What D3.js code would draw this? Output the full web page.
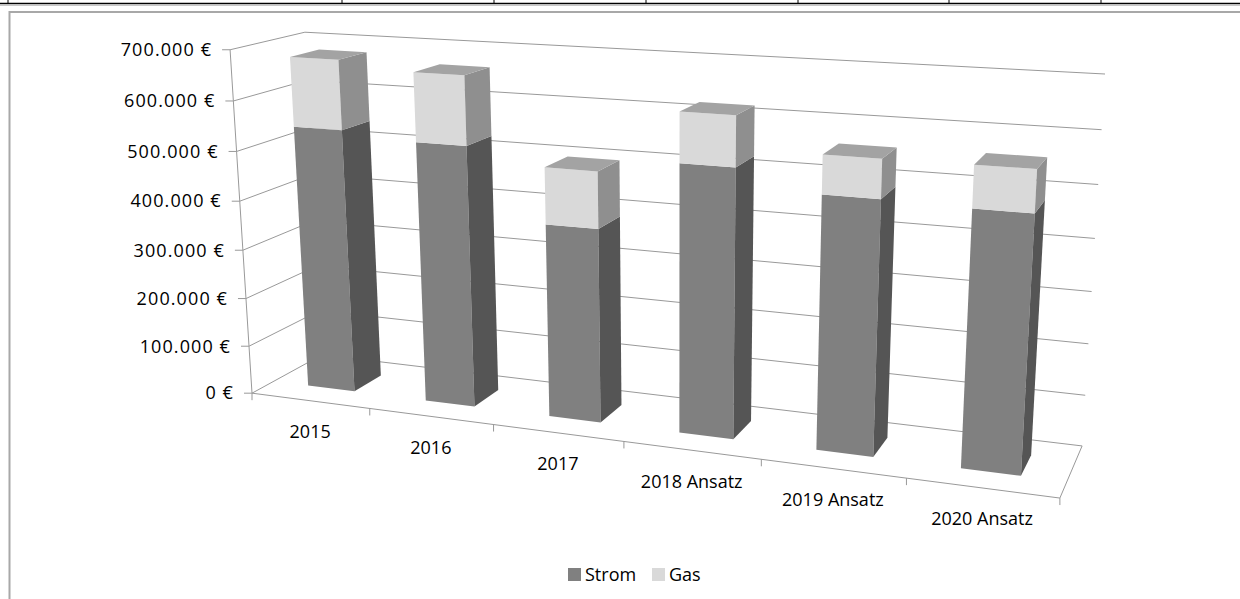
<!DOCTYPE html>
<html lang="de">
<head>
<meta charset="utf-8">
<title>Energiekosten Strom / Gas</title>
<script src="https://d3js.org/d3.v7.min.js"></script>
<style>
body{margin:0;background:#fff;overflow:hidden;}
text{font-family:"Open Sans",sans-serif;font-size:18px;fill:#000;}
.vlabel{letter-spacing:1.1px;}
</style>
</head>
<body>
<script>
// data
var categories = ["2015", "2016", "2017", "2018 Ansatz", "2019 Ansatz", "2020 Ansatz"];
var seriesNames = ["Strom", "Gas"];
var strom = [540000, 527000, 386000, 524000, 486000, 482000];
var gas = [139000, 136000, 111000, 96000, 73000, 78000];
var valueTicks = [0, 100000, 200000, 300000, 400000, 500000, 600000, 700000];

var width = 1240, height = 599;

var svg = d3.select("body").append("svg")
  .attr("width", width).attr("height", height);

// spreadsheet row above the chart object
var cellLines = [8, 342, 494, 646, 798, 949, 1101];
svg.append("line").attr("x1", 0).attr("x2", width).attr("y1", 3.5).attr("y2", 3.5)
  .style("stroke", "#000").style("stroke-width", 1.5);
svg.append("line").attr("x1", 0).attr("x2", width).attr("y1", 5.5).attr("y2", 5.5)
  .style("stroke", "#c8c8c8");
svg.selectAll(".cell").data(cellLines).enter().append("line")
  .attr("x1", function(d){return d;}).attr("x2", function(d){return d;})
  .attr("y1", 0).attr("y2", 4).style("stroke", "#000");

// chart object border
svg.append("rect").attr("x", 9.5).attr("y", 12).attr("width", 1300).attr("height", 700)
  .style("fill", "#fff").style("stroke", "#a8a8a8").style("stroke-width", 2);

// ---- perspective camera fitted to the plot box corners (X category, Y depth, Z value)
var boxCorners = [
  [[0,0,0],[252,393]], [[0,0,1],[230,50]], [[0,1,1],[305,32]], [[0,1,0],[322,355]],
  [[1,1,1],[1105,74]], [[1,1,0],[1082,446]], [[1,0,0],[1060,498]]
];

function solveCamera(pts){
  var A = [], b = [];
  pts.forEach(function(p){
    var X=p[0][0], Y=p[0][1], Z=p[0][2], u=p[1][0], v=p[1][1];
    A.push([X,Y,Z,1,0,0,0,0,-u*X,-u*Y,-u*Z]); b.push(u);
    A.push([0,0,0,0,X,Y,Z,1,-v*X,-v*Y,-v*Z]); b.push(v);
  });
  var n = 11, M = [];
  for (var i=0;i<n;i++){
    M.push([]);
    for (var j=0;j<=n;j++){
      var s = 0;
      for (var k=0;k<A.length;k++) s += A[k][i]*(j<n ? A[k][j] : b[k]);
      M[i].push(s);
    }
  }
  for (var c=0;c<n;c++){
    var piv=c;
    for (var r=c+1;r<n;r++) if (Math.abs(M[r][c])>Math.abs(M[piv][c])) piv=r;
    var tmp=M[c]; M[c]=M[piv]; M[piv]=tmp;
    for (var r2=0;r2<n;r2++){
      if (r2===c) continue;
      var f = M[r2][c]/M[c][c];
      for (var j2=c;j2<=n;j2++) M[r2][j2] -= f*M[c][j2];
    }
  }
  return M.map(function(row,i){return row[n]/row[i];});
}
var cam = solveCamera(boxCorners);
function project(X,Y,Z){
  var w = cam[8]*X + cam[9]*Y + cam[10]*Z + 1;
  return [(cam[0]*X+cam[1]*Y+cam[2]*Z+cam[3])/w, (cam[4]*X+cam[5]*Y+cam[6]*Z+cam[7])/w];
}
function poly(pts){
  return "M" + pts.map(function(p){return project(p[0],p[1],p[2]).join(",");}).join("L") + "Z";
}

// scales
var xBand = d3.scaleBand().domain(categories).range([0,1]).paddingInner(0.6).paddingOuter(0.3);
var zScale = d3.scaleLinear().domain([0,700000]).range([0,1]);
var color = d3.scaleOrdinal().domain(seriesNames).range(["#808080","#d9d9d9"]);
var sideColor = d3.scaleOrdinal().domain(seriesNames).range(["#555555","#8f8f8f"]);
var topColor = d3.scaleOrdinal().domain(seriesNames).range(["#6e6e6e","#a3a3a3"]);
var depth0 = 0.3, depth1 = 0.7;

var de = d3.formatLocale({decimal:",", thousands:".", grouping:[3], currency:[""," €"]});
var fmt = de.format("$,.0f");

var gridColor = "#999999";
var grid = svg.append("g").style("stroke", gridColor).style("stroke-width", 1).style("fill", "none");

// side wall + back wall gridlines
valueTicks.forEach(function(v){
  var z = zScale(v);
  grid.append("path").attr("d", "M"+project(0,0,z)+"L"+project(0,1,z)+"L"+project(1,1,z));
});
// floor edges
grid.append("path").attr("d", "M"+project(0,0,0)+"L"+project(1,0,0)+"L"+project(1,1,0));
// value axis
grid.append("path").attr("d", "M"+project(0,0,0)+"L"+project(0,0,1));

// value ticks + labels
valueTicks.forEach(function(v){
  var p = project(0,0,zScale(v));
  grid.append("line").attr("x1", p[0]-8).attr("x2", p[0]).attr("y1", p[1]).attr("y2", p[1]);
  svg.append("text").attr("class", "vlabel").attr("x", p[0]-18).attr("y", p[1]).attr("dy", "0.35em")
    .attr("text-anchor", "end").text(fmt(v));
});

// category ticks + labels
var step = xBand.step();
d3.range(categories.length+1).forEach(function(k){
  var p = project(k*step,0,0);
  grid.append("line").attr("x1", p[0]).attr("x2", p[0]).attr("y1", p[1]).attr("y2", p[1]+7);
});
categories.forEach(function(c){
  var p = project(xBand(c)+xBand.bandwidth()/2,0,0);
  svg.append("text").attr("x", p[0]).attr("y", p[1]+31).attr("dy", "0.35em")
    .attr("text-anchor", "middle").text(c);
});

// stacked 3D columns
var rows = categories.map(function(c,i){return {cat:c, Strom:strom[i], Gas:gas[i]};});
var stacked = d3.stack().keys(seriesNames)(rows);
var bars = svg.append("g");
categories.forEach(function(c,i){
  var x0 = xBand(c), x1 = x0 + xBand.bandwidth();
  stacked.forEach(function(layer, li){
    var key = layer.key;
    var z0 = zScale(layer[i][0]), z1 = zScale(layer[i][1]);
    var g = bars.append("g");
    g.append("path").attr("d", poly([[x0,depth0,z0],[x1,depth0,z0],[x1,depth0,z1],[x0,depth0,z1]]))
      .style("fill", color(key));
    g.append("path").attr("d", poly([[x1,depth0,z0],[x1,depth1,z0],[x1,depth1,z1],[x1,depth0,z1]]))
      .style("fill", sideColor(key));
    if (li === stacked.length-1) {
      g.append("path").attr("d", poly([[x0,depth0,z1],[x1,depth0,z1],[x1,depth1,z1],[x0,depth1,z1]]))
        .style("fill", topColor(key));
    }
  });
});

// legend
var legend = svg.append("g").attr("transform", "translate(568,568)");
var legendX = [0, 84];
seriesNames.forEach(function(s,i){
  legend.append("rect").attr("x", legendX[i]).attr("y", 0).attr("width", 13).attr("height", 13)
    .style("fill", color(s));
  legend.append("text").attr("x", legendX[i]+17).attr("y", 7).attr("dy", "0.35em").text(s);
});
</script>
</body>
</html>
